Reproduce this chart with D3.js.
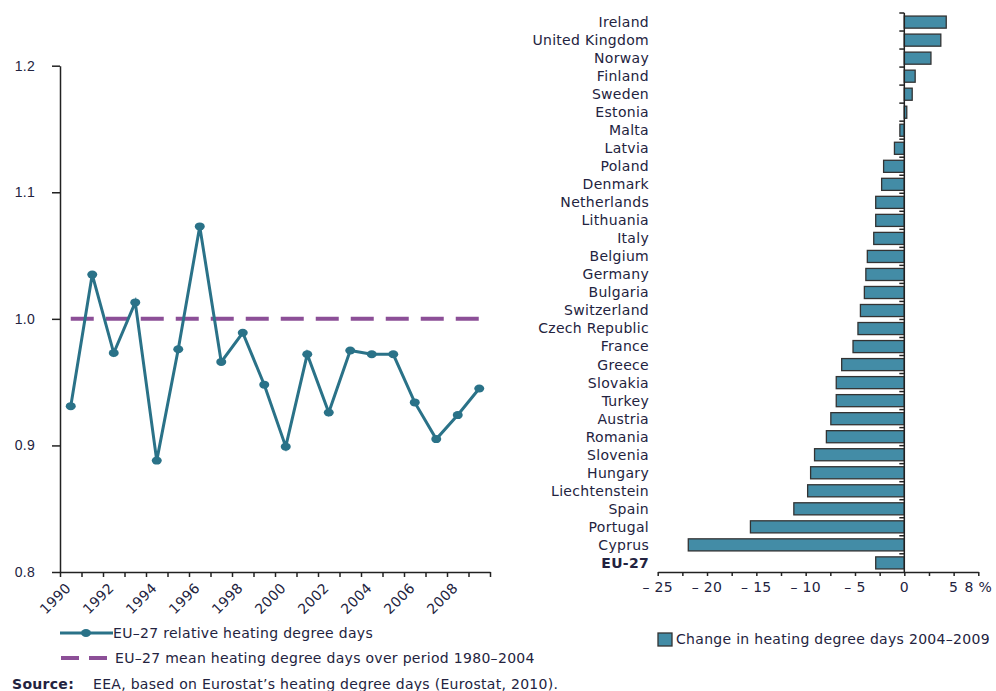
<!DOCTYPE html>
<html>
<head>
<meta charset="utf-8">
<script src="https://cdn.jsdelivr.net/npm/d3@7"></script>
<style>
  body { margin: 0; background: #fff; }
  svg { display: block; font-family: "DejaVu Sans", Verdana, sans-serif; }
  text { fill: #232340; font-size: 14px; letter-spacing: 0.3px; }
</style>
</head>
<body>
<svg width="996" height="691"></svg>
<script>

// left panel: EU-27 relative heating degree days
var years = d3.range(1990, 2010);
var relativeHdd = [0.931, 1.035, 0.973, 1.013, 0.888, 0.976, 1.073, 0.966, 0.989, 0.948,
                   0.899, 0.972, 0.926, 0.975, 0.972, 0.972, 0.934, 0.905, 0.924, 0.945];
var meanLevel = 1.0;
var yTicks = [0.8, 0.9, 1.0, 1.1, 1.2];

// right panel: change 2004-2009, %
var countries = ['Ireland', 'United Kingdom', 'Norway', 'Finland', 'Sweden', 'Estonia', 'Malta',
  'Latvia', 'Poland', 'Denmark', 'Netherlands', 'Lithuania', 'Italy', 'Belgium', 'Germany',
  'Bulgaria', 'Switzerland', 'Czech Republic', 'France', 'Greece', 'Slovakia', 'Turkey',
  'Austria', 'Romania', 'Slovenia', 'Hungary', 'Liechtenstein', 'Spain', 'Portugal', 'Cyprus', 'EU-27'];
var change = [4.25, 3.7, 2.7, 1.1, 0.8, 0.25, -0.45, -1.0, -2.1, -2.3, -2.9, -2.9, -3.1, -3.75, -3.9,
  -4.05, -4.45, -4.7, -5.2, -6.35, -6.9, -6.9, -7.45, -7.9, -9.1, -9.5, -9.8, -11.2, -15.6, -21.9, -2.9];
var changeTicks = d3.range(-25, 7.6, 2.5);
var changeLabels = [-25, -20, -15, -10, -5, 0, 5, 7.5];

var lineColor = '#2a7288';
var dashColor = '#8c4f97';
var barColor = '#438ca6';

var svg = d3.select('svg');

function drawLineChart() {
  var x = d3.scaleLinear().domain([1989.5, 2009.5]).range([60, 490]);
  var y = d3.scaleLinear().domain([0.8, 1.2]).range([572, 65.7]);

  svg.append('g')
    .attr('transform', 'translate(60,0)')
    .call(d3.axisLeft(y).tickValues(yTicks).tickFormat(d3.format('.1f'))
      .tickSize(8).tickPadding(17).tickSizeOuter(0))
    .call(function(g) {
      g.select('.domain').attr('stroke', '#222').attr('stroke-width', 1.5);
      g.selectAll('.tick line').attr('stroke', '#222').attr('stroke-width', 1.5);
      g.selectAll('text').attr('font-family', null);
    });

  svg.append('g')
    .attr('transform', 'translate(0,572)')
    .call(d3.axisBottom(x).tickValues(d3.range(1989.5, 2010, 1)).tickFormat('')
      .tickSize(5).tickSizeOuter(0))
    .call(function(g) {
      g.select('.domain').attr('stroke', '#222').attr('stroke-width', 1.5);
      g.selectAll('.tick line').attr('stroke', '#222').attr('stroke-width', 1.5);
    });

  svg.append('g')
    .selectAll('text')
    .data(years.filter(function(d) { return d % 2 === 0; }))
    .enter()
    .append('text')
      .attr('text-anchor', 'end')
      .attr('transform', function(d) { return 'translate(' + (x(d) + 1) + ',589) rotate(-45)'; })
      .text(function(d) { return d; });

  svg.append('line')
    .attr('x1', x(years[0]))
    .attr('x2', x(years[years.length - 1]))
    .attr('y1', y(meanLevel))
    .attr('y2', y(meanLevel))
    .attr('stroke', dashColor)
    .attr('stroke-width', 4)
    .attr('stroke-dasharray', '23,12');

  var line = d3.line()
    .x(function(d, i) { return x(years[i]); })
    .y(function(d) { return y(d); });

  svg.append('path')
    .datum(relativeHdd)
    .attr('d', line)
    .attr('fill', 'none')
    .attr('stroke', lineColor)
    .attr('stroke-width', 3);

  svg.append('g')
    .selectAll('ellipse')
    .data(relativeHdd)
    .enter()
    .append('ellipse')
      .attr('cx', function(d, i) { return x(years[i]); })
      .attr('cy', function(d) { return y(d); })
      .attr('rx', 5)
      .attr('ry', 4)
      .attr('fill', lineColor);

  // legend
  svg.append('line')
    .attr('x1', 60).attr('x2', 113).attr('y1', 633).attr('y2', 633)
    .attr('stroke', lineColor).attr('stroke-width', 3);
  svg.append('ellipse')
    .attr('cx', 86).attr('cy', 633).attr('rx', 5).attr('ry', 4)
    .attr('fill', lineColor);
  svg.append('text')
    .attr('x', 113).attr('y', 638)
    .text('EU\u201327 relative heating degree days');

  svg.append('line')
    .attr('x1', 61).attr('x2', 107).attr('y1', 658).attr('y2', 658)
    .attr('stroke', dashColor).attr('stroke-width', 4)
    .attr('stroke-dasharray', '18,10');
  svg.append('text')
    .attr('x', 115).attr('y', 663)
    .text('EU\u201327 mean heating degree days over period 1980\u20132004');
}

function drawBarChart() {
  var x = d3.scaleLinear().domain([-25, 7.5]).range([657.7, 978.3]);
  var y = d3.scaleBand().domain(countries).range([13, 572]).paddingInner(0.33).paddingOuter(0.17);
  var step = y.step();

  svg.append('g')
    .selectAll('rect')
    .data(change)
    .enter()
    .append('rect')
      .attr('x', function(d) { return x(Math.min(0, d)); })
      .attr('y', function(d, i) { return y(countries[i]); })
      .attr('width', function(d) { return Math.abs(x(d) - x(0)); })
      .attr('height', y.bandwidth())
      .attr('fill', barColor)
      .attr('stroke', '#333')
      .attr('stroke-width', 1.3);

  // vertical zero axis with ticks between rows
  svg.append('line')
    .attr('x1', x(0)).attr('x2', x(0)).attr('y1', 13).attr('y2', 572)
    .attr('stroke', '#222').attr('stroke-width', 1.5);
  svg.append('g')
    .selectAll('line')
    .data(countries)
    .enter()
    .append('line')
      .attr('x1', x(0) - 5)
      .attr('x2', x(0))
      .attr('y1', function(d) { return y(d) - step * 0.17; })
      .attr('y2', function(d) { return y(d) - step * 0.17; })
      .attr('stroke', '#222')
      .attr('stroke-width', 1.5);

  svg.append('g')
    .attr('transform', 'translate(0,572)')
    .call(d3.axisBottom(x).tickValues(changeTicks).tickFormat('').tickSize(4).tickSizeOuter(0))
    .call(function(g) {
      g.select('.domain').attr('stroke', '#222').attr('stroke-width', 1.5);
      g.selectAll('.tick line').attr('stroke', '#222').attr('stroke-width', 1.5);
    });

  svg.append('g')
    .selectAll('text')
    .data(changeLabels)
    .enter()
    .append('text')
      .attr('x', function(d) { return x(d); })
      .attr('y', 592)
      .attr('text-anchor', 'middle')
      .text(function(d) {
        if (d === 7.5) return '8 %';
        return d < 0 ? '\u2013 ' + Math.abs(d) : d;
      });

  svg.append('g')
    .selectAll('text')
    .data(countries)
    .enter()
    .append('text')
      .attr('x', 649)
      .attr('y', function(d) { return y(d) + y.bandwidth() / 2; })
      .attr('dy', '0.35em')
      .attr('text-anchor', 'end')
      .attr('font-weight', function(d) { return d === 'EU-27' ? 'bold' : null; })
      .text(function(d) { return d; });

  // legend
  svg.append('rect')
    .attr('x', 658).attr('y', 633).attr('width', 14).attr('height', 13)
    .attr('fill', barColor).attr('stroke', '#333').attr('stroke-width', 1.3);
  svg.append('text')
    .attr('x', 676).attr('y', 644)
    .text('Change in heating degree days 2004\u20132009');
}

drawLineChart();
drawBarChart();

svg.append('text')
  .attr('x', 12).attr('y', 689)
  .attr('font-weight', 'bold')
  .text('Source:');
svg.append('text')
  .attr('x', 93).attr('y', 689)
  .text('EEA, based on Eurostat\u2019s heating degree days (Eurostat, 2010).');

</script>
</body>
</html>
